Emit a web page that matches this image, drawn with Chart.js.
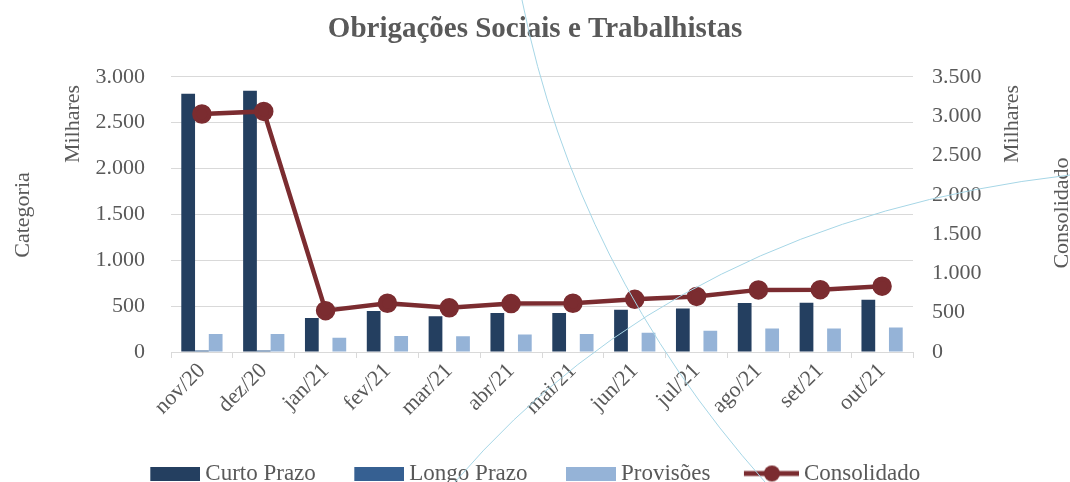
<!DOCTYPE html>
<html>
<head>
<meta charset="utf-8">
<script src="https://cdn.jsdelivr.net/npm/chart.js@4"></script>
<style>
  html, body { margin: 0; padding: 0; background: #fff; overflow: hidden; }
  #wrap { width: 1070px; height: 495px; position: relative; }
</style>
</head>
<body>
<div id="wrap"><canvas id="chart"></canvas></div>
<script>
// Data (valores em milhares)
const categories = ['nov/20', 'dez/20', 'jan/21', 'fev/21', 'mar/21', 'abr/21', 'mai/21', 'jun/21', 'jul/21', 'ago/21', 'set/21', 'out/21'];
const curtoPrazo = [2815, 2848, 370, 446, 391, 424, 424, 460, 475, 533, 536, 569];
const longoPrazo = [15, 15, 0, 0, 0, 0, 0, 0, 0, 0, 0, 0];
const provisoes = [196, 196, 156, 174, 171, 192, 196, 210, 232, 257, 257, 268];
const consolidado = [3027, 3060, 526, 620, 562, 616, 620, 670, 707, 790, 793, 837];
const leftTicks = [0, 500, 1000, 1500, 2000, 2500, 3000];
const rightTicks = [0, 500, 1000, 1500, 2000, 2500, 3000, 3500];

const textColor = '#595959';
const fontFamily = '"Liberation Serif", "DejaVu Serif", serif';

function fmt(v) {
    return String(v).replace(/\B(?=(\d{3})+(?!\d))/g, '.');
}

// legend swatches (image wider than the slot so the text sits close)
function boxSwatch(color) {
    const c = document.createElement('canvas');
    c.width = 57; c.height = 14;
    const ctx = c.getContext('2d');
    ctx.fillStyle = color;
    ctx.fillRect(7, 0, 50, 14);
    return c;
}
function lineSwatch(color) {
    const c = document.createElement('canvas');
    c.width = 57; c.height = 18;
    const ctx = c.getContext('2d');
    ctx.strokeStyle = color;
    ctx.lineWidth = 5;
    ctx.beginPath(); ctx.moveTo(2, 9); ctx.lineTo(57, 9); ctx.stroke();
    ctx.fillStyle = color;
    ctx.beginPath(); ctx.arc(30, 9, 8, 0, Math.PI * 2); ctx.fill();
    return c;
}

// side titles + stray connector curves from the original sheet
const extrasPlugin = {
    id: 'extras',
    afterDraw(chart) {
        const ctx = chart.ctx;
        ctx.save();
        ctx.fillStyle = textColor;
        ctx.font = '22px ' + fontFamily;
        ctx.textAlign = 'center';
        ctx.textBaseline = 'middle';
        const drawV = (txt, x, y) => {
            ctx.save();
            ctx.translate(x, y);
            ctx.rotate(-Math.PI / 2);
            ctx.fillText(txt, 0, 0);
            ctx.restore();
        };
        drawV('Categoria', 23, 215);
        drawV('Milhares', 73, 124);
        drawV('Milhares', 1012, 124);
        drawV('Consolidado', 1062, 213);

        ctx.strokeStyle = '#a6d6e6';
        ctx.lineWidth = 1;
        ctx.beginPath();
        ctx.moveTo(522, 0);
        ctx.quadraticCurveTo(576, 269, 765, 482);
        ctx.stroke();
        ctx.beginPath();
        ctx.moveTo(455, 482);
        ctx.quadraticCurveTo(680, 220, 1070, 175);
        ctx.stroke();
        ctx.restore();
    }
};

const swatches = [boxSwatch('#243f60'), boxSwatch('#366092'), boxSwatch('#95b3d7'), lineSwatch('#7b2c30')];

new Chart(document.getElementById('chart'), {
    type: 'bar',
    data: {
        labels: categories,
        datasets: [
            {
                label: 'Curto Prazo',
                data: curtoPrazo,
                backgroundColor: '#243f60',
                yAxisID: 'y',
                order: 2
            },
            {
                label: 'Longo Prazo',
                data: longoPrazo,
                backgroundColor: '#366092',
                yAxisID: 'y',
                order: 2
            },
            {
                label: 'Provisões',
                data: provisoes,
                backgroundColor: '#95b3d7',
                yAxisID: 'y',
                order: 2
            },
            {
                type: 'line',
                label: 'Consolidado',
                data: consolidado,
                borderColor: '#7b2c30',
                backgroundColor: '#7b2c30',
                borderWidth: 4.5,
                pointRadius: 7.5,
                pointHoverRadius: 7.5,
                tension: 0,
                yAxisID: 'y1',
                order: 1
            }
        ]
    },
    options: {
        responsive: true,
        maintainAspectRatio: false,
        animation: false,
        layout: { padding: 0 },
        datasets: {
            bar: { categoryPercentage: 0.667, barPercentage: 1.0 }
        },
        plugins: {
            title: {
                display: true,
                text: 'Obrigações Sociais e Trabalhistas',
                color: textColor,
                font: { family: fontFamily, size: 29, weight: 'bold' },
                padding: { top: 12, bottom: 30 }
            },
            legend: {
                position: 'bottom',
                labels: {
                    usePointStyle: true,
                    pointStyleWidth: 44,
                    padding: 38,
                    color: textColor,
                    font: { family: fontFamily, size: 23 },
                    generateLabels(chart) {
                        return chart.data.datasets.map((ds, i) => ({
                            text: ds.label,
                            pointStyle: swatches[i],
                            fontColor: textColor,
                            datasetIndex: i,
                            hidden: false,
                            lineWidth: 0
                        }));
                    }
                }
            },
            tooltip: { enabled: false }
        },
        scales: {
            x: {
                offset: true,
                afterFit(scale) { scale.height = 72; },
                grid: {
                    offset: true,
                    drawOnChartArea: false,
                    drawTicks: true,
                    tickLength: 6,
                    color: '#d9d9d9'
                },
                border: { color: '#d9d9d9' },
                ticks: {
                    color: textColor,
                    maxRotation: 45,
                    minRotation: 45,
                    font: { family: fontFamily, size: 22 },
                    padding: 0
                }
            },
            y: {
                position: 'left',
                min: 0,
                max: 3000,
                afterBuildTicks(scale) { scale.ticks = leftTicks.map(v => ({ value: v })); },
                afterFit(scale) { scale.width = 171; },
                grid: { color: '#d9d9d9', drawTicks: false },
                border: { display: false },
                ticks: {
                    color: textColor,
                    padding: 26,
                    font: { family: fontFamily, size: 22 },
                    callback: v => fmt(v)
                }
            },
            y1: {
                position: 'right',
                min: 0,
                max: 3500,
                afterBuildTicks(scale) { scale.ticks = rightTicks.map(v => ({ value: v })); },
                afterFit(scale) { scale.width = 157; },
                grid: { drawOnChartArea: false, drawTicks: false },
                border: { display: false },
                ticks: {
                    color: textColor,
                    padding: 19,
                    font: { family: fontFamily, size: 22 },
                    callback: v => fmt(v)
                }
            }
        }
    },
    plugins: [extrasPlugin]
});
</script>
</body>
</html>
